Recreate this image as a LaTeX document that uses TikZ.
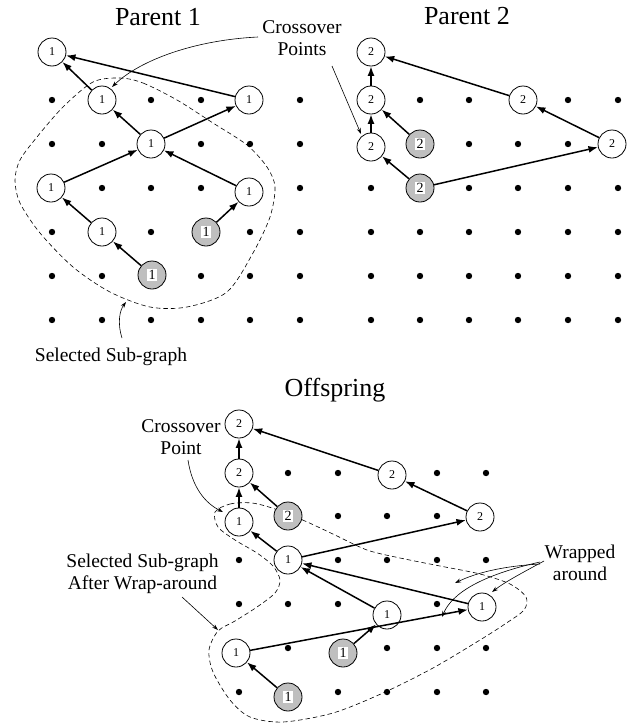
\documentclass[tikz,border=0pt]{standalone}
\usepackage{fontspec}
\setmainfont{Liberation Serif}
\usetikzlibrary{arrows.meta}
\newcommand{\graylab}[1]{{\setlength{\fboxsep}{1.1pt}\colorbox{white}{#1}}}
\tikzset{
  wn/.style={circle,draw,line width=0.8pt,minimum size=28pt,inner sep=0pt,fill=white,font=\fontsize{12}{12}\selectfont},
  gn/.style={circle,draw,line width=0.8pt,minimum size=28pt,inner sep=0pt,fill=gray!50,font=\fontsize{14}{14}\selectfont},
  dotp/.style={circle,fill=black,inner sep=0pt,minimum size=6.4pt},
  link/.style={line width=1.5pt,-{Latex[length=9.5pt,width=7pt]}},
  note/.style={line width=0.6pt,-{Stealth[length=6pt,width=4pt]}},
  subline/.style={dash pattern=on 4.5pt off 3pt,line width=0.6pt},
  lbl/.style={font=\fontsize{19.5}{22}\selectfont,align=center,inner sep=0pt},
  ttl/.style={font=\fontsize{26}{28}\selectfont,inner sep=0pt,anchor=base},
}
\begin{document}
\begin{tikzpicture}[x=1pt,y=-1pt]
\useasboundingbox (0,0) rectangle (639,726);

% ---------- grid dots ----------
\foreach \x/\y in {52/100,151/100,201/100,300/100,
  52/144,102/144,201/144,250/144,300/144,
  102/188,151/188,201/188,300/188,
  52/232,151/232,250/232,300/232,
  52/276,102/276,201/276,250/276,300/276,
  52/320,102/320,151/320,201/320,250/320,300/320}
  \node[dotp] (l\x-\y) at (\x,\y) {};
\foreach \x/\y in {420/100,469/100,568/100,618/100,
  469/144,518/144,568/144,
  371/188,469/188,518/188,568/188,618/188,
  371/232,420/232,469/232,518/232,568/232,618/232,
  371/276,420/276,469/276,518/276,568/276,618/276,
  371/320,420/320,469/320,518/320,568/320,618/320}
  \node[dotp] (r\x-\y) at (\x,\y) {};
\foreach \x/\y in {288/473,338/473,437/473,486/473,
  338/516,387/516,437/516,
  239/560,338/560,387/560,437/560,486/560,
  239/604,288/604,338/604,437/604,
  288/648,387/648,437/648,486/648,
  239/692,338/692,387/692,437/692,486/692}
  \node[dotp] (o\x-\y) at (\x,\y) {};

% ---------- selected sub-graph outlines ----------
\draw[subline] plot[smooth cycle] coordinates {
  (120,78) (143,83) (177,100) (213,123) (247,145) (267,167) (275,187)
  (270,217) (253,253) (227,292) (187,307) (150,307) (110,292) (73,267)
  (40,233) (20,203) (15,180) (20,160) (37,137) (63,107) (93,82)};
\draw[subline] plot[smooth cycle] coordinates {
  (215,512) (230,504) (252,503) (275,509) (305,521) (335,535) (367,550)
  (400,558) (440,566) (480,574) (510,584) (526,597) (524,610) (505,624)
  (480,640) (433,668) (383,693) (333,713) (283,722) (250,717) (230,700)
  (213,672) (209,650) (218,631) (235,621) (257,607) (275,593) (280,580)
  (273,566) (257,553) (235,540) (218,527)};

% ---------- Parent 1 ----------
\node[wn] (A) at (52,52) {1};
\node[wn] (B) at (102,100) {1};
\node[wn] (C) at (249,100) {1};
\node[wn] (D) at (151,144) {1};
\node[wn] (E) at (51,188) {1};
\node[wn] (F) at (249,192) {1};
\node[wn] (G) at (102,232) {1};
\node[gn] (H) at (206,232) {\graylab{1}};
\node[gn] (I) at (152,275) {\graylab{1}};
\draw[link] (B) -- (A);
\draw[link] (C) -- (A);
\draw[link] (D) -- (B);
\draw[link] (D) -- (C);
\draw[link] (E) -- (D);
\draw[link] (F) -- (D);
\draw[link] (G) -- (E);
\draw[link] (I) -- (G);
\draw[link] (H) -- (F);

% ---------- Parent 2 ----------
\node[wn] (P) at (371,52) {2};
\node[wn] (Q) at (371,100) {2};
\node[wn] (R) at (371,147) {2};
\node[gn] (S) at (420,144) {\graylab{2}};
\node[wn] (T) at (523,100) {2};
\node[wn] (U) at (612,144) {2};
\node[gn] (V) at (420,188) {\graylab{2}};
\draw[link] (Q) -- (P);
\draw[link] (R) -- (Q);
\draw[link] (S) -- (Q);
\draw[link] (T) -- (P);
\draw[link] (U) -- (T);
\draw[link] (V) -- (R);
\draw[link] (V) -- (U);

% ---------- Offspring ----------
\node[wn] (oP) at (239,424) {2};
\node[wn] (oQ) at (239,473) {2};
\node[wn] (oB) at (239,522) {1};
\node[gn] (oS) at (288,516) {\graylab{2}};
\node[wn] (oT) at (392,475) {2};
\node[wn] (oU) at (480,517) {2};
\node[wn] (oD) at (288,560) {1};
\node[wn] (oE) at (482,607) {1};
\node[wn] (oF) at (387,615) {1};
\node[wn] (oG) at (236,653) {1};
\node[gn] (oH) at (343,653) {\graylab{1}};
\node[gn] (oI) at (288,697) {\graylab{1}};
\draw[link] (oQ) -- (oP);
\draw[link] (oB) -- (oQ);
\draw[link] (oS) -- (oQ);
\draw[link] (oT) -- (oP);
\draw[link] (oU) -- (oT);
\draw[link] (oD) -- (oB);
\draw[link] (oD) -- (oU);
\draw[link] (oE) -- (oD);
\draw[link] (oF) -- (oD);
\draw[link] (oG) -- (oE);
\draw[link] (oH) -- (oF);
\draw[link] (oI) -- (oG);

% ---------- titles ----------
\node[ttl] (t1) at (158,25) {Parent 1};
\node[ttl] (t2) at (467,24) {Parent 2};
\node[ttl] (t3) at (335,396) {Offspring};

% ---------- labels ----------
\node[lbl] (cp1) at (302,38) {Crossover\\Points};
\node[lbl] (cp2) at (181,437) {Crossover\\Point};
\node[lbl,anchor=base] (ss1) at (111,361) {Selected Sub-graph};
\node[lbl] (ss2) at (142.5,574) {Selected Sub-graph\\After Wrap-around};
\node[lbl] (wa) at (580,563) {Wrapped\\around};

% ---------- annotation arrows ----------
\coordinate (c1s) at (258,37);
\coordinate (c1e) at (112,87);
\coordinate (c2s) at (332,66);
\coordinate (c2e) at (361,134);
\coordinate (c3s) at (188,460);
\coordinate (c3e) at (223,512);
\coordinate (s1s) at (122,338);
\coordinate (s1e) at (126,302);
\coordinate (s2s) at (182,597);
\coordinate (s2e) at (218,630);
\coordinate (w0) at (540,564);
\coordinate (w1) at (455,583);
\coordinate (w2) at (442,617);
\coordinate (w3) at (492,592);
\draw[note] (c1s) .. controls (195,40) and (140,60) .. (c1e);
\draw[note] (c2s) -- (c2e);
\draw[note] (c3s) .. controls (192,487) and (205,503) .. (c3e);
\draw[note] (s1s) .. controls (117,322) and (120,310) .. (s1e);
\draw[note] (s2s) -- (s2e);
\draw[note] (w0) .. controls (505,566) and (478,572) .. (w1);
\draw[note] ([yshift=2pt]w0) .. controls (482,575) and (452,593) .. (w2);
\draw[note] ([xshift=4pt,yshift=3pt]w0) .. controls (520,574) and (505,582) .. (w3);
\end{tikzpicture}
\end{document}
